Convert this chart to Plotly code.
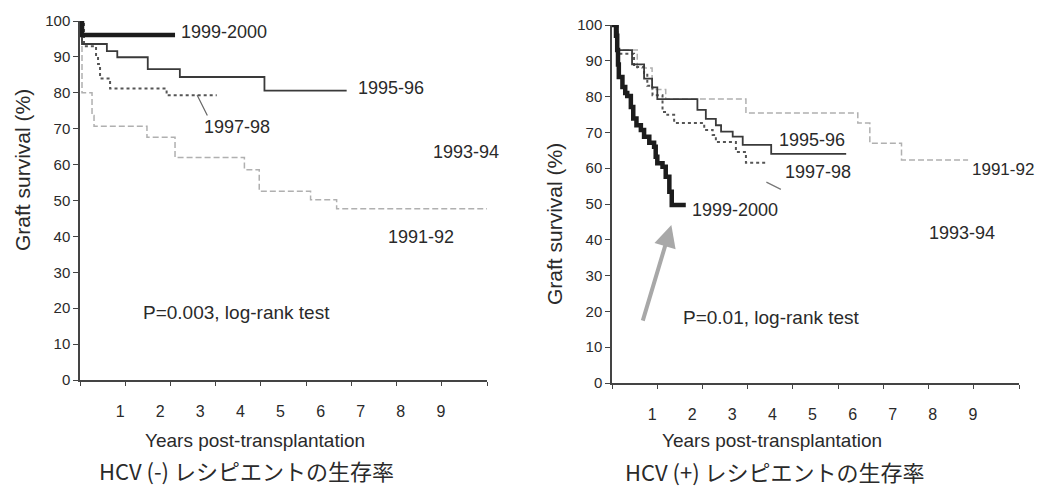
import plotly.graph_objects as go

# ---------------- data (Kaplan-Meier steps) ----------------
# HCV(-) recipients
neg_9900_t = [0, 0.05, 2.37]
neg_9900_s = [100, 96.1, 96.1]
neg_9596_t = [0, 0.05, 0.67, 0.93, 1.69, 2.49, 4.6, 6.65]
neg_9596_s = [100, 93.6, 91.6, 89.9, 86.6, 84.4, 80.6, 80.6]
neg_9798_t = [0, 0.1, 0.4, 0.45, 0.5, 0.75, 2.16, 3.41]
neg_9798_s = [100, 93.0, 90.0, 88.0, 84.0, 81.2, 79.3, 79.3]
neg_9192_t = [0, 0.05, 0.3, 0.35, 1.67, 2.37, 4.1, 4.47, 5.75, 6.4, 10.15]
neg_9192_s = [100, 80.0, 73.7, 70.7, 67.6, 62.0, 58.6, 52.6, 50.2, 47.7, 47.7]

# HCV(+) recipients
pos_9900_t = [0, 0.1, 0.13, 0.15, 0.17, 0.26, 0.33, 0.38, 0.47, 0.53, 0.61, 0.72,
              0.8, 0.93, 1.05, 1.09, 1.13, 1.26, 1.34, 1.43, 1.49, 1.84]
pos_9900_s = [100, 97, 93, 89, 85.5, 82.7, 81.0, 80.2, 77.1, 73.9, 72.0, 70.7,
              68.8, 67.1, 66.0, 63.2, 61.4, 60.4, 57.6, 53.4, 49.7, 49.7]
pos_9596_t = [0, 0.15, 0.5, 0.8, 1.0, 1.13, 2.13, 2.34, 2.59, 2.72, 3.01, 3.26, 3.97, 5.84]
pos_9596_s = [100, 93, 89, 85, 82.6, 79.3, 76.3, 73.8, 72.0, 70.2, 68.8, 66.5, 64.0, 64.0]
pos_9798_t = [0, 0.15, 0.55, 0.8, 0.88, 1.01, 1.26, 1.38, 1.55, 2.3, 2.51, 2.59, 3.09, 3.34, 3.84]
pos_9798_s = [100, 92, 88.3, 86.6, 83.0, 80.4, 75.7, 74.9, 72.6, 70.7, 69.3, 67.3, 64.5, 61.5, 61.5]
pos_9192_t = [0, 0.1, 0.63, 1.0, 1.34, 3.34, 6.13, 6.43, 7.22, 8.88]
pos_9192_s = [100, 93.0, 88.0, 82.0, 79.3, 75.4, 72.6, 67.0, 62.3, 62.3]

y_ticks = [0, 10, 20, 30, 40, 50, 60, 70, 80, 90, 100]
x_ticks = [1, 2, 3, 4, 5, 6, 7, 8, 9]
x_max = 10.15

titles_x = "Years post-transplantation"
titles_y = "Graft survival (%)"
sub_neg = "HCV (-) レシピエントの生存率"
sub_pos = "HCV (+) レシピエントの生存率"
p_neg = "P=0.003, log-rank test"
p_pos = "P=0.01, log-rank test"

# ---------------- figure ----------------
W, H = 1038, 489
FONT = "Liberation Sans, Arial, sans-serif"
TXT = "#2a2a2a"

fig = go.Figure()

styles = {
    "9900": dict(color="#1c1c1c", width=4.5, dash="solid"),
    "9596": dict(color="#3a3a3a", width=1.8, dash="solid"),
    "9798": dict(color="#555555", width=2.0, dash="dot"),
    "9192": dict(color="#b0b0b0", width=1.5, dash="6px,3px"),
}

def add(t, s, key, xa, ya, name):
    fig.add_trace(go.Scatter(x=t, y=s, mode="lines", line_shape="hv",
                             line=styles[key], xaxis=xa, yaxis=ya, name=name,
                             showlegend=False, hoverinfo="skip"))

add(neg_9192_t, neg_9192_s, "9192", "x", "y", "1991-92")
add(neg_9798_t, neg_9798_s, "9798", "x", "y", "1997-98")
add(neg_9596_t, neg_9596_s, "9596", "x", "y", "1995-96")
add(neg_9900_t, neg_9900_s, "9900", "x", "y", "1999-2000")

add(pos_9192_t, pos_9192_s, "9192", "x2", "y2", "1991-92")
add(pos_9798_t, pos_9798_s, "9798", "x2", "y2", "1997-98")
add(pos_9596_t, pos_9596_s, "9596", "x2", "y2", "1995-96")
add(pos_9900_t, pos_9900_s, "9900", "x2", "y2", "1999-2000")

def xaxis(domain, anchor):
    return dict(domain=domain, anchor=anchor, range=[0, x_max], showgrid=False,
                zeroline=False, showline=True, linecolor="#444", linewidth=1.5,
                automargin=False,
                tickmode="array", tickvals=x_ticks, ticktext=[str(v) for v in x_ticks],
                ticks="", ticklabelstandoff=16,
                tickfont=dict(family=FONT, size=16, color=TXT),
                minor=dict(ticks="outside", tick0=0, dtick=x_max / 9, ticklen=4,
                           tickcolor="#444", tickwidth=1.2, showgrid=False))

def yaxis(domain, anchor):
    return dict(domain=domain, anchor=anchor, range=[0, 100], showgrid=False,
                zeroline=False, showline=True, linecolor="#444", linewidth=1.5,
                automargin=False,
                tickmode="array", tickvals=y_ticks, ticks="outside", ticklen=5,
                tickcolor="#444", tickwidth=1.2,
                tickfont=dict(family=FONT, size=15, color=TXT))

fig.update_layout(
    width=W, height=H, margin=dict(l=0, r=0, t=0, b=0, autoexpand=False),
    paper_bgcolor="white", plot_bgcolor="white",
    xaxis=xaxis([80 / W, 487 / W], "y"),
    yaxis=yaxis([1 - 380 / H, 1 - 21 / H], "x"),
    xaxis2=xaxis([612 / W, 1019 / W], "y2"),
    yaxis2=yaxis([1 - 383 / H, 1 - 25 / H], "x2"),
)

def lab(text, x, y, xr, yr, size=18):
    fig.add_annotation(text=text, x=x, y=y, xref=xr, yref=yr, showarrow=False,
                       xanchor="left", yanchor="middle", borderpad=0,
                       font=dict(family=FONT, size=size, color=TXT))

# curve labels, HCV(-)
lab("1999-2000", 2.49, 96.9, "x", "y")
lab("1995-96", 6.9, 81.3, "x", "y")
lab("1997-98", 3.07, 70.5, "x", "y")
lab("1993-94", 8.78, 63.5, "x", "y")
lab("1991-92", 7.66, 39.8, "x", "y")
lab(p_neg, 1.55, 18.7, "x", "y", 19)
# curve labels, HCV(+)
lab("1995-96", 4.13, 67.9, "x2", "y2")
lab("1997-98", 4.3, 58.9, "x2", "y2")
lab("1999-2000", 1.98, 48.3, "x2", "y2")
lab("1991-92", 8.95, 59.5, "x2", "y2", 17)
lab("1993-94", 7.88, 41.9, "x2", "y2")
lab(p_pos, 1.75, 18.2, "x2", "y2", 19)

# leader lines / arrow
fig.add_annotation(x=2.92, y=79.4, xref="x", yref="y", text="", showarrow=True,
                   arrowhead=0, ax=11, ay=22, arrowwidth=1.2, arrowcolor="#666")
fig.add_annotation(x=3.85, y=56.1, xref="x2", yref="y2", text="", showarrow=True,
                   arrowhead=0, ax=16, ay=8, arrowwidth=1.2, arrowcolor="#777")
fig.add_annotation(x=1.48, y=44.1, xref="x2", yref="y2", text="", showarrow=True,
                   arrowhead=2, arrowsize=1.1, ax=-29, ay=97, arrowwidth=4,
                   arrowcolor="#a8a8a8")

def ptext(text, px, py, size, family=FONT, angle=0):
    fig.add_annotation(text=text, x=px / W, y=1 - py / H, xref="paper", yref="paper",
                       showarrow=False, xanchor="center", yanchor="middle",
                       borderpad=0, textangle=angle,
                       font=dict(family=family, size=size, color=TXT))

ptext(titles_x, 255, 440, 19)
ptext(titles_x, 772, 440, 19)
ptext(titles_y, 23, 170, 21, angle=-90)
ptext(titles_y, 555, 224, 21, angle=-90)
CJK = "Noto Sans CJK JP, sans-serif"
ptext(sub_neg, 246, 470, 22, CJK)
ptext(sub_pos, 775, 471, 22, CJK)

fig.write_html("out.html", config={"displayModeBar": False})

# remove the browser's default 8px page margin so the figure sits at (0, 0)
with open("out.html", encoding="utf-8") as f:
    html = f.read()
html = html.replace("<head>", "<head><style>html,body{margin:0;padding:0;overflow:hidden;}</style>", 1)
with open("out.html", "w", encoding="utf-8") as f:
    f.write(html)
